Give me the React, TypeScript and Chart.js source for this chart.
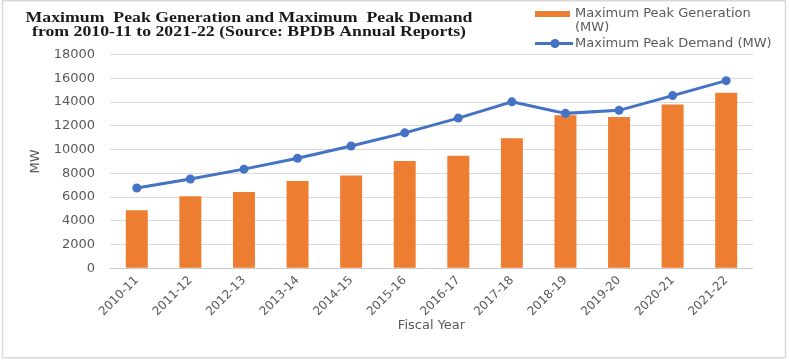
import React, { useEffect, useRef } from "react";
import { Chart, registerables } from "chart.js";

Chart.register(...registerables);

const fiscalYears = [
  "2010-11", "2011-12", "2012-13", "2013-14", "2014-15", "2015-16",
  "2016-17", "2017-18", "2018-19", "2019-20", "2020-21", "2021-22",
];

const peakGeneration = [4890, 6066, 6434, 7356, 7817, 9036, 9479, 10958, 12893, 12738, 13792, 14782];
const peakDemand = [6765, 7518, 8349, 9268, 10300, 11405, 12644, 14014, 13044, 13300, 14540, 15800];

const seriesLabels = ["Maximum Peak Generation (MW)", "Maximum Peak Demand (MW)"];
const titleLines = [
  "Maximum  Peak Generation and Maximum  Peak Demand",
  "from 2010-11 to 2021-22 (Source: BPDB Annual Reports)",
];
const yAxisMin = 0;
const yAxisMax = 18000;
const yAxisStep = 2000;

const ORANGE = "#ED7D31";
const BLUE = "#4472C4";
const TEXT_GREY = "#595959";
const SANS = "'DejaVu Sans', sans-serif";

// Wraps a label into lines no wider than maxWidth
function wrapText(ctx: CanvasRenderingContext2D, text: string, maxWidth: number): string[] {
  const words = text.split(" ");
  const lines: string[] = [];
  let cur = "";
  for (const w of words) {
    const next = cur ? cur + " " + w : w;
    if (cur && ctx.measureText(next).width > maxWidth) {
      lines.push(cur);
      cur = w;
    } else {
      cur = next;
    }
  }
  if (cur) lines.push(cur);
  return lines;
}

// Frame, two-line title at the top left and the legend at the top right
const decorPlugin = {
  id: "decor",
  beforeDraw(chart: any) {
    const ctx = chart.ctx as CanvasRenderingContext2D;
    ctx.save();
    ctx.fillStyle = "#ffffff";
    ctx.fillRect(0, 0, chart.width, chart.height);
    ctx.strokeStyle = "#d9d9d9";
    ctx.lineWidth = 1.5;
    ctx.strokeRect(2.5, 0.75, 783, 357);
    ctx.restore();
  },
  afterDraw(chart: any) {
    const ctx = chart.ctx as CanvasRenderingContext2D;
    ctx.save();

    // title, stretched horizontally
    ctx.font = "bold 14.5px 'Liberation Serif', serif";
    ctx.fillStyle = "#1a1a1a";
    ctx.textAlign = "center";
    ctx.textBaseline = "middle";
    const w0 = ctx.measureText(titleLines[0]).width;
    const sx = 447 / w0;
    const titleY = [18.5, 32.5];
    titleLines.forEach((line, i) => {
      ctx.save();
      ctx.translate(249, titleY[i]);
      ctx.scale(sx, 1);
      ctx.fillText(line, 0, 0);
      ctx.restore();
    });

    // legend
    ctx.font = "13px " + SANS;
    ctx.fillStyle = TEXT_GREY;
    ctx.textAlign = "left";
    ctx.textBaseline = "middle";
    const ds = chart.data.datasets;
    const textX = 575;
    // bar series entry
    const genLines = wrapText(ctx, ds[0].label, 205);
    ctx.fillStyle = ds[0].backgroundColor;
    ctx.fillRect(535, 11, 35, 6);
    ctx.fillStyle = TEXT_GREY;
    genLines.forEach((l, i) => ctx.fillText(l, textX, 14 + i * 13.5));
    // line series entry
    const ly = 43.5;
    ctx.strokeStyle = ds[1].borderColor;
    ctx.lineWidth = 3;
    ctx.beginPath();
    ctx.moveTo(535, ly);
    ctx.lineTo(573, ly);
    ctx.stroke();
    ctx.fillStyle = ds[1].borderColor;
    ctx.beginPath();
    ctx.arc(555, ly, 4.5, 0, Math.PI * 2);
    ctx.fill();
    ctx.fillStyle = TEXT_GREY;
    ctx.fillText(ds[1].label, textX, ly);

    ctx.restore();
  },
};

export default function App() {
  const canvasRef = useRef<HTMLCanvasElement | null>(null);

  useEffect(() => {
    if (!canvasRef.current) return;
    Chart.defaults.font.family = SANS;
    const chart = new Chart(canvasRef.current, {
      type: "bar",
      data: {
        labels: fiscalYears,
        datasets: [
          {
            type: "bar",
            label: seriesLabels[0],
            data: peakGeneration,
            backgroundColor: ORANGE,
            borderWidth: 0,
            categoryPercentage: 1,
            barPercentage: 0.41,
            order: 2,
          },
          {
            type: "line",
            label: seriesLabels[1],
            data: peakDemand,
            borderColor: BLUE,
            backgroundColor: BLUE,
            borderWidth: 3,
            pointRadius: 4.5,
            pointBackgroundColor: BLUE,
            pointBorderColor: BLUE,
            pointBorderWidth: 0,
            tension: 0,
            order: 1,
          },
        ] as any,
      },
      options: {
        animation: false,
        responsive: true,
        maintainAspectRatio: false,
        devicePixelRatio: 1,
        layout: { padding: { top: 54.5, right: 36, bottom: 0, left: 0 } },
        plugins: {
          legend: { display: false },
          title: { display: false },
          tooltip: { enabled: false },
        },
        scales: {
          x: {
            afterFit: (scale: any) => {
              scale.height = 93.7;
            },
            grid: { display: false, drawTicks: false },
            border: { display: false },
            ticks: {
              color: TEXT_GREY,
              font: { size: 12, family: SANS },
              minRotation: 45,
              maxRotation: 45,
              autoSkip: false,
              padding: 5,
            },
            title: {
              display: true,
              text: "Fiscal Year",
              color: TEXT_GREY,
              font: { size: 13, family: SANS },
              padding: { top: 4, bottom: 29 },
            },
          },
          y: {
            min: yAxisMin,
            max: yAxisMax,
            afterFit: (scale: any) => {
              scale.width = 110;
            },
            grid: {
              color: (c: any) => (c.index === 0 ? "#c9c9c9" : "#d9d9d9"),
              lineWidth: 1,
              drawTicks: false,
            },
            border: { display: false },
            ticks: {
              stepSize: yAxisStep,
              color: TEXT_GREY,
              font: { size: 13, family: SANS },
              padding: 15,
              callback: (v: any) => String(v),
            },
            title: {
              display: true,
              text: "MW",
              color: TEXT_GREY,
              font: { size: 13, family: SANS },
              padding: { top: 28, bottom: 0 },
            },
          },
        },
      },
      plugins: [decorPlugin],
    });
    return () => chart.destroy();
  }, []);

  return (
    <div style={{ position: "fixed", left: 0, top: 0, width: 789, height: 362, background: "#fff" }}>
      <canvas ref={canvasRef} />
    </div>
  );
}
